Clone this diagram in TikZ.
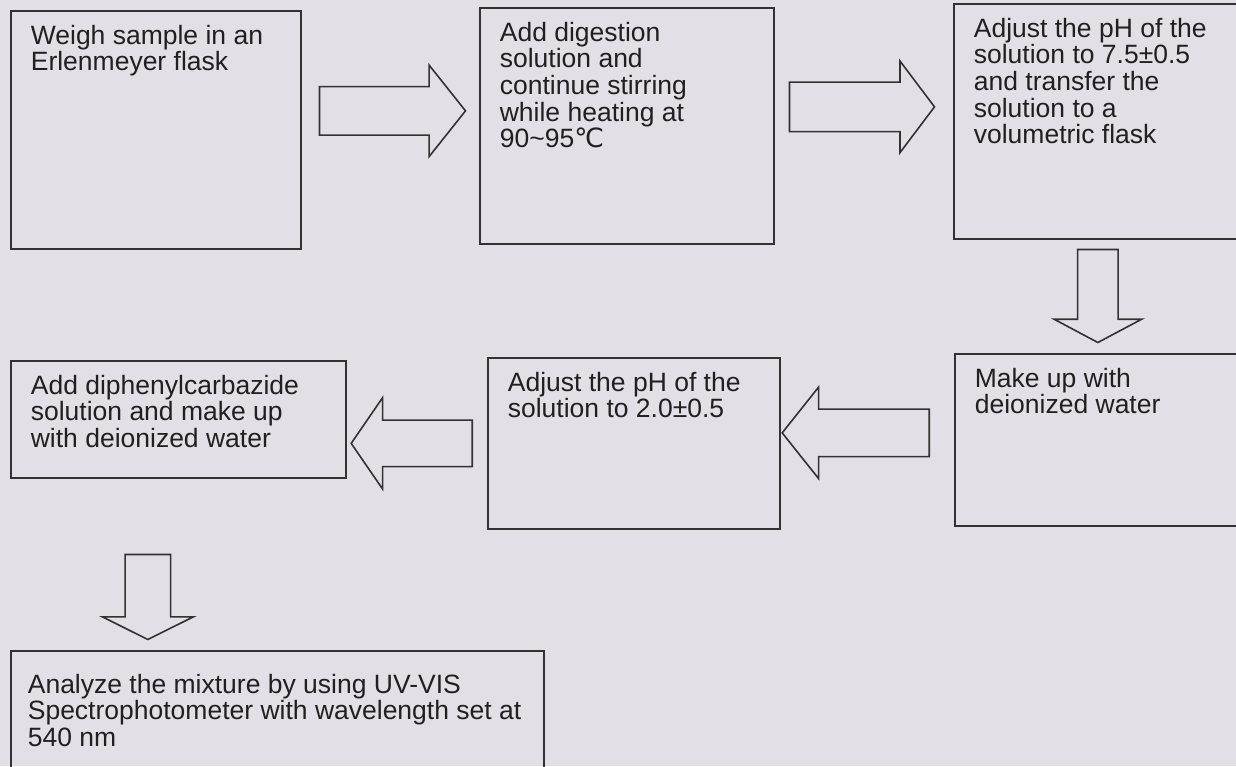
\documentclass[tikz,border=0pt]{standalone}
\usepackage{fontspec}
\setmainfont{Liberation Sans}
\newfontfamily\celsiusfont{DejaVu Sans}
\usetikzlibrary{shapes.arrows,calc}
\definecolor{paper}{RGB}{226,223,231}
\definecolor{linegray}{RGB}{50,50,50}
\definecolor{textgray}{RGB}{32,32,32}
\newcommand{\boxtext}[3]{\parbox[t][#1][t]{#2}{\raggedright #3}}
\newcommand{\stepfont}{\fontsize{26.5pt}{26.7pt}\selectfont}
\begin{document}
\begin{tikzpicture}[x=1pt, y=-1pt,
    stepbox/.style={draw=linegray, line width=1.7pt, anchor=north west,
        inner xsep=20pt, inner ysep=14pt, text=textgray, font=\stepfont},
    blockarrow/.style n args={4}{single arrow, draw=linegray, line width=1.6pt,
        inner sep=0pt, anchor=tail, text height=#1, text depth=#1,
        single arrow head extend=#2, single arrow tip angle=#3, minimum height=#4}]
    % page and background
    \useasboundingbox (0,0) rectangle (1236,766);
    \fill[paper] (0,0) rectangle (1236,766);
    \clip (0,0) rectangle (1236,766);

    % top row
    \node[stepbox] (weigh) at (10,10)
        {\boxtext{210pt}{250pt}{Weigh sample in an\\Erlenmeyer flask}};
    \node[stepbox] (digest) at (479,7)
        {\boxtext{208pt}{254pt}{Add digestion\\solution and\\continue stirring\\while heating at\\90\textasciitilde 95{\celsiusfont ℃}}};
    \node[stepbox] (adjust) at (953,3)
        {\boxtext{207pt}{257pt}{Adjust the pH of the\\solution to 7.5±0.5\\and transfer the\\solution to a\\volumetric flask}};

    % middle row
    \node[stepbox] (makeup) at (954,353)
        {\boxtext{144pt}{256pt}{Make up with\\deionized water}};
    \node[stepbox] (acidify) at (487,357)
        {\boxtext{143pt}{252pt}{Adjust the pH of the\\solution to 2.0±0.5}};
    \node[stepbox] (colour) at (10,360)
        {\boxtext{89pt}{295pt}{Add diphenylcarbazide\\solution and make up\\with deionized water}};

    % bottom row
    \node[stepbox, inner xsep=17pt, inner ysep=23pt] (analyze) at (10,650)
        {\boxtext{94pt}{499pt}{Analyze the mixture by using UV-VIS\\Spectrophotometer with wavelength set at\\540 nm}};

    % block arrows between the steps
    \node[blockarrow={23.5pt}{21.5pt}{103}{146pt}] (w2d) at ($(weigh.east)+(17,-19)$) {};
    \node[blockarrow={24pt}{21pt}{106}{145pt}] (d2a) at ($(digest.east)+(14,-19)$) {};
    \node[blockarrow={19.5pt}{23.5pt}{124}{93pt}, rotate=-90] (a2m) at ($(adjust.south)+(-4.5,9)$) {};
    \node[blockarrow={23pt}{22pt}{103}{147pt}, rotate=180] (m2p) at ($(makeup.west)+(-24,-7)$) {};
    \node[blockarrow={22.5pt}{22.5pt}{111}{121pt}, rotate=180] (p2c) at ($(acidify.west)+(-14,0)$) {};
    \node[blockarrow={22pt}{22.5pt}{127}{85pt}, rotate=-90] (c2a) at ($(colour.south)+(-30.5,75)$) {};
\end{tikzpicture}
\end{document}
